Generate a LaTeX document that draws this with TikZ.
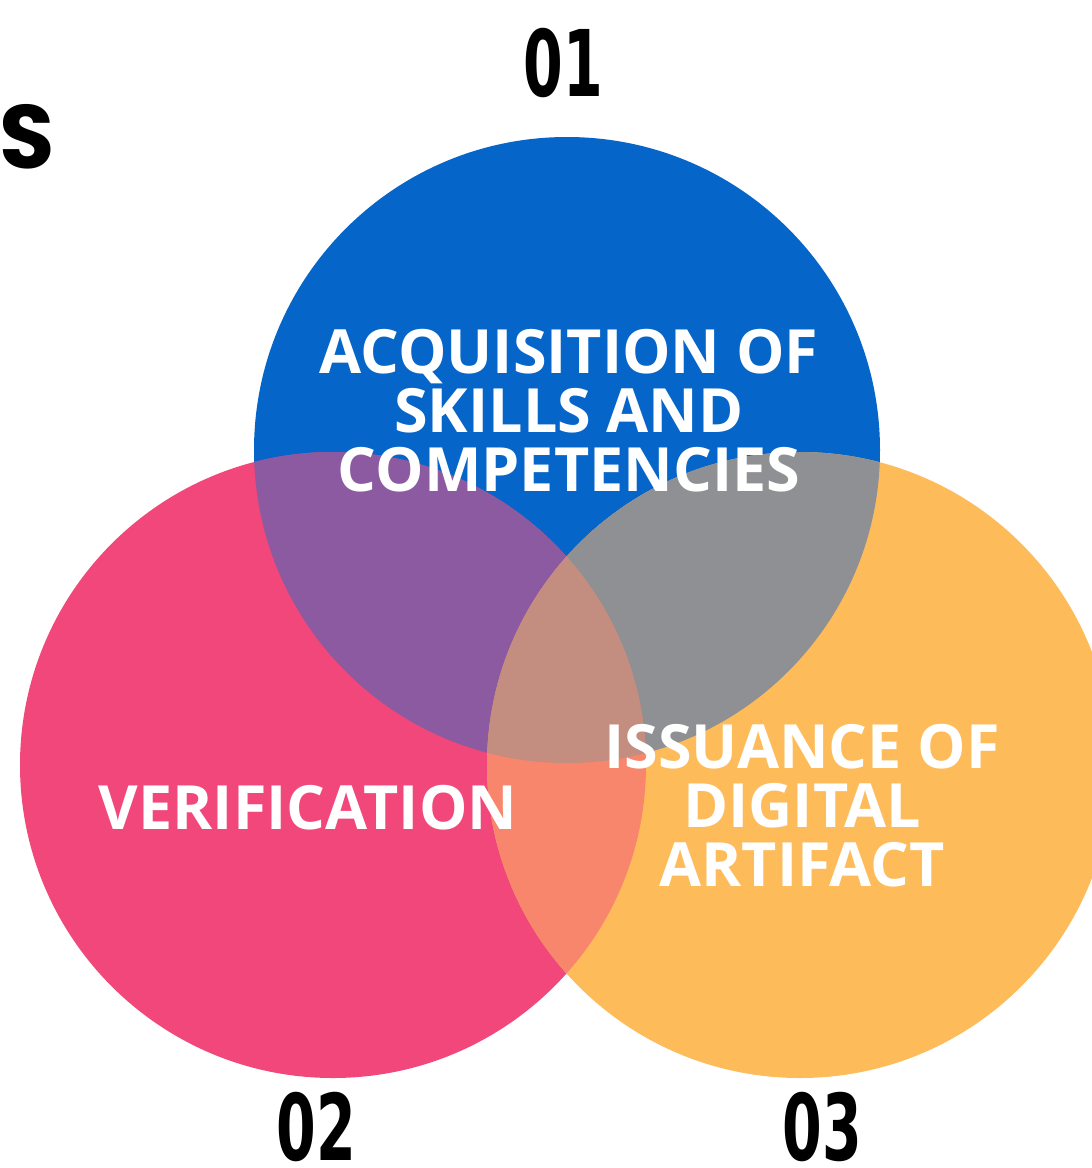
\documentclass[tikz,border=0pt]{standalone}
\usepackage{fontspec}
\setmainfont{Open Sans}
\newfontfamily\numfont{DejaVu Sans}
\newfontfamily\letterfont{Poppins}
\definecolor{cblue}{RGB}{5,101,200}
\definecolor{cpink}{RGB}{241,71,122}
\definecolor{corange}{RGB}{254,187,89}
\definecolor{cpurple}{RGB}{139,90,160}
\definecolor{cgray}{RGB}{143,144,147}
\definecolor{cpeach}{RGB}{247,134,109}
\definecolor{ccenter}{RGB}{195,141,128}
\tikzset{
  label/.style={text=white, align=center, inner sep=0pt, font=\bfseries\fontsize{61}{59}\selectfont},
  number/.style={text=black, inner sep=0pt},
}
\newcommand{\bignum}[1]{\scalebox{0.62}[1]{\numfont\bfseries\fontsize{92}{92}\selectfont #1}}
\begin{document}
\begin{tikzpicture}[x=1pt,y=-1pt]
\useasboundingbox (0,0) rectangle (1092,1168);
\clip (0,0) rectangle (1092,1168);
\fill[white] (0,0) rectangle (1092,1168);
\coordinate (cb) at (567,450);
\coordinate (cp) at (333,765);
\coordinate (co) at (800,765);
\fill[cblue] (cb) circle (313);
\fill[cpink] (cp) circle (313);
\fill[corange] (co) circle (313);
\begin{scope}\clip (cb) circle (313); \fill[cpurple] (cp) circle (313);\end{scope}
\begin{scope}\clip (cb) circle (313); \fill[cgray] (co) circle (313);\end{scope}
\begin{scope}\clip (cp) circle (313); \fill[cpeach] (co) circle (313);\end{scope}
\begin{scope}\clip (cb) circle (313); \clip (cp) circle (313); \fill[ccenter] (co) circle (313);\end{scope}

\node[label] (acq) at (569,411) {ACQUISITION OF\\SKILLS AND\\COMPETENCIES};
\node[label] (ver) at (308,808) {VERIFICATION};
\node[label] (iss) at (802,806) {ISSUANCE OF\\DIGITAL\\ARTIFACT};

\node[number] (n1) at (563,63) {\bignum{01}};
\node[number] (n2) at (316,1127) {\bignum{02}};
\node[number] (n3) at (822,1127) {\bignum{03}};
\node[number] (s) at (27,137) {\letterfont\bfseries\fontsize{90}{90}\selectfont S};
\end{tikzpicture}
\end{document}
